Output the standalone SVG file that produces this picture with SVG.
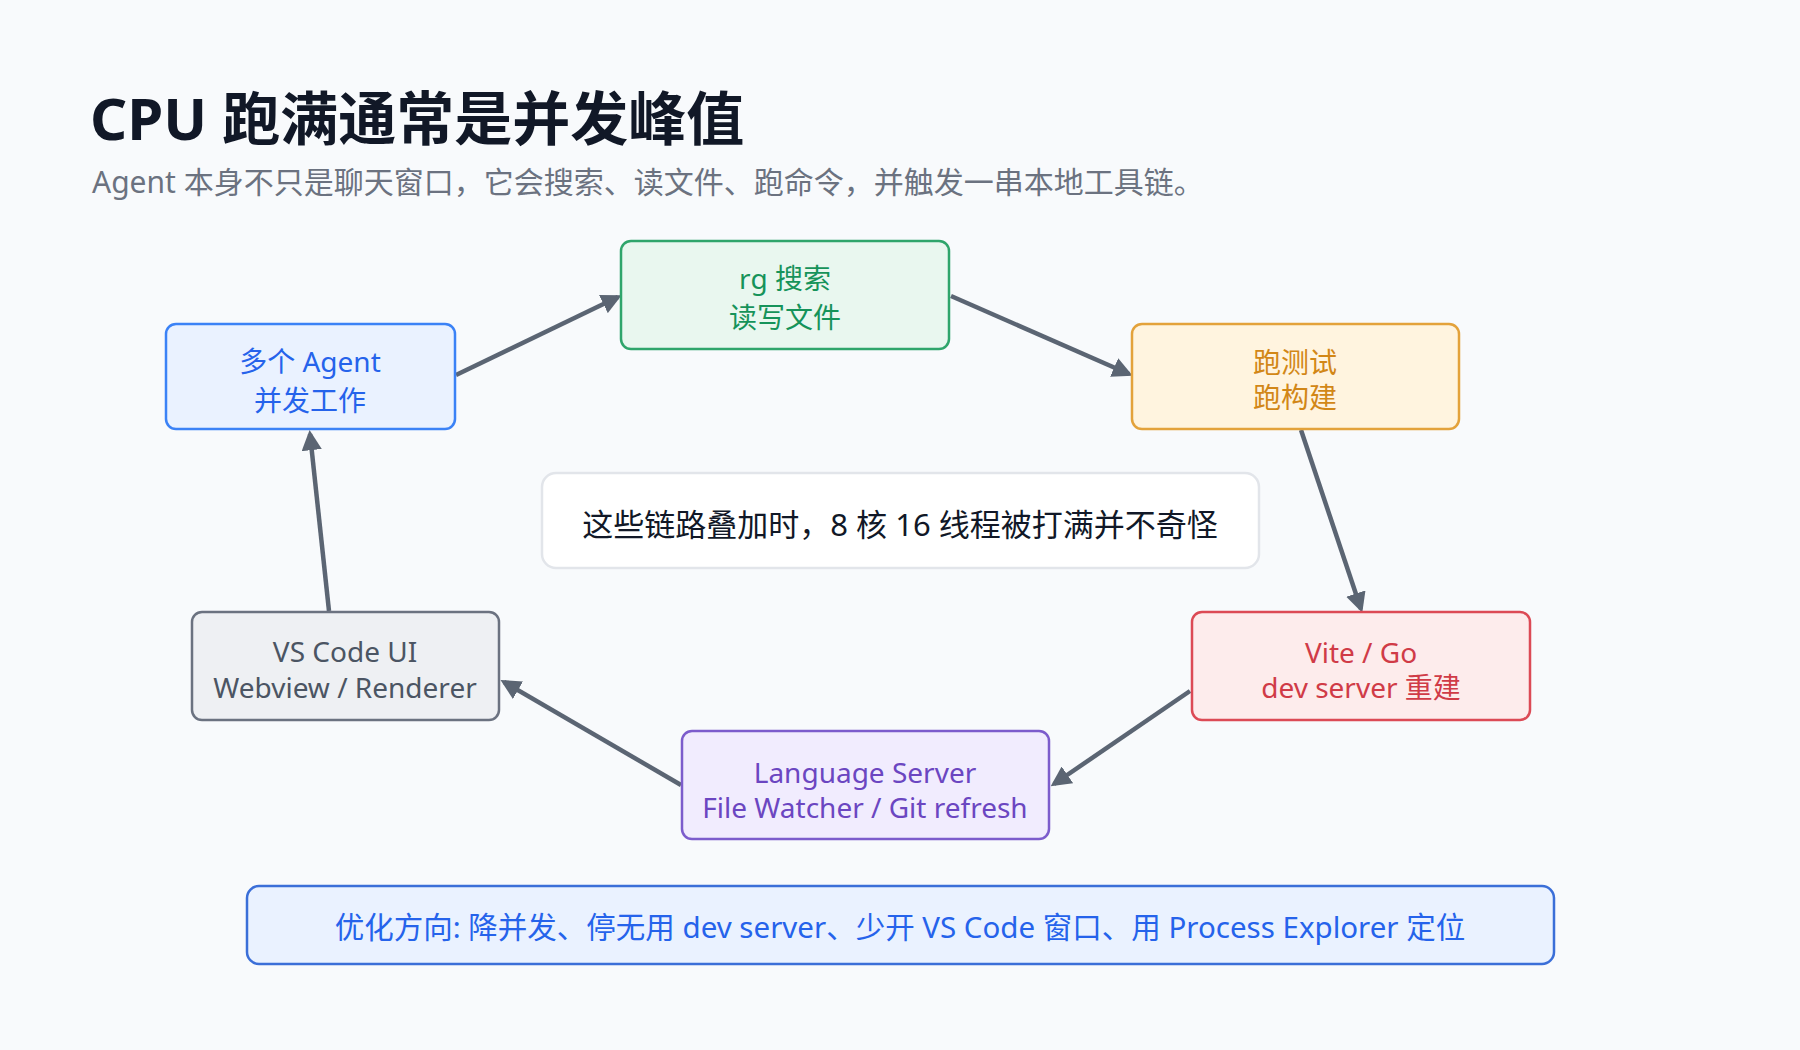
<svg xmlns="http://www.w3.org/2000/svg" width="1800" height="1050" viewBox="0 0 1800 1050">
<style>
text{font-family:"Noto Sans","Noto Sans CJK SC",sans-serif;}
.n{font-size:28px;text-anchor:middle;}
.box{stroke-width:2.5;}
.c{stroke:#5b6573;stroke-width:4.5;fill:none;marker-end:url(#ah);}
</style>
<defs><marker id="ah" viewBox="0 0 10 10" refX="8" refY="5" markerWidth="4.5" markerHeight="4.5" orient="auto"><path d="M0,0L10,5L0,10z" fill="#5b6573"/></marker></defs>
<rect width="1800" height="1050" fill="#f8fafc"/>
<text x="90" y="140" font-size="58" font-weight="bold" fill="#111827">CPU 跑满通常是并发峰值</text>
<text x="92" y="193" font-size="30" fill="#6b7280">Agent 本身不只是聊天窗口，它会搜索、读文件、跑命令，并触发一串本地工具链。</text>
<g id="connectors">
<line class="c" x1="456" y1="375" x2="618" y2="297"/>
<line class="c" x1="951" y1="296" x2="1129" y2="374"/>
<line class="c" x1="1301" y1="430" x2="1361" y2="609"/>
<line class="c" x1="1190" y1="691" x2="1054" y2="784"/>
<line class="c" x1="681" y1="785" x2="504" y2="682"/>
<line class="c" x1="329" y1="611" x2="310" y2="434"/>
</g>
<g id="agent"><rect class="box" x="166" y="324" width="289" height="105" rx="10" fill="#eaf2ff" stroke="#3b82f6"/><text class="n" x="310" y="372" fill="#2563eb">多个 Agent</text><text class="n" x="310" y="411" fill="#2563eb">并发工作</text></g>
<g id="rg"><rect class="box" x="621" y="241" width="328" height="108" rx="10" fill="#e9f7ef" stroke="#2fa56b"/><text class="n" x="785" y="289" fill="#16935a">rg 搜索</text><text class="n" x="785" y="328" fill="#16935a">读写文件</text></g>
<g id="test"><rect class="box" x="1132" y="324" width="327" height="105" rx="10" fill="#fff4df" stroke="#e3a23b"/><text class="n" x="1295" y="373" fill="#d28717">跑测试</text><text class="n" x="1295" y="408" fill="#d28717">跑构建</text></g>
<g id="vite"><rect class="box" x="1192" y="612" width="338" height="108" rx="10" fill="#fdecec" stroke="#dc4a55"/><text class="n" x="1361" y="663" fill="#d03b47">Vite / Go</text><text class="n" x="1361" y="698" fill="#d03b47">dev server 重建</text></g>
<g id="ls"><rect class="box" x="682" y="731" width="367" height="108" rx="10" fill="#f1ecfe" stroke="#7c5ccc"/><text class="n" x="865" y="783" fill="#6b46c1">Language Server</text><text class="n" x="865" y="818" fill="#6b46c1">File Watcher / Git refresh</text></g>
<g id="vscode"><rect class="box" x="192" y="612" width="307" height="108" rx="10" fill="#eef0f3" stroke="#6b7280"/><text class="n" x="345" y="662" fill="#4b5563">VS Code UI</text><text class="n" x="345" y="698" fill="#4b5563">Webview / Renderer</text></g>
<g id="center"><rect x="542" y="473" width="717" height="95" rx="14" fill="#ffffff" stroke="#e2e5ea" stroke-width="2.5"/><text x="900" y="536" font-size="31" text-anchor="middle" fill="#111827">这些链路叠加时，8 核 16 线程被打满并不奇怪</text></g>
<g id="bottom"><rect x="247" y="886" width="1307" height="78" rx="12" fill="#eaf2ff" stroke="#3b6fd8" stroke-width="2.5"/><text x="900" y="938" font-size="29.5" text-anchor="middle" fill="#2563eb">优化方向: 降并发、停无用 dev server、少开 VS Code 窗口、用 Process Explorer 定位</text></g>
</svg>
